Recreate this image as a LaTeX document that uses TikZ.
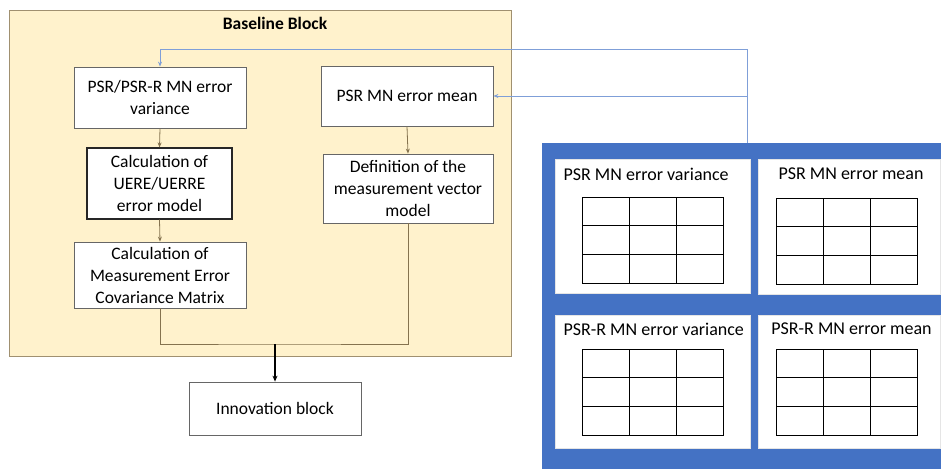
\documentclass[tikz,border=0pt]{standalone}
\usepackage{fontspec}
\setmainfont{Carlito}
\usetikzlibrary{arrows.meta}
\definecolor{blockfill}{HTML}{FFF2CC}
\definecolor{blockdraw}{HTML}{A09070}
\definecolor{boxdraw}{HTML}{666666}
\definecolor{brownline}{HTML}{85734F}
\definecolor{panelblue}{HTML}{4472C4}
\definecolor{linkblue}{HTML}{7F9FD8}
\tikzset{
  txt/.style={font=\fontsize{17.5}{22}\selectfont},
  paneltxt/.style={font=\fontsize{18}{22}\selectfont},
  procbox/.style={txt, draw=boxdraw, fill=white, line width=0.8pt, align=center, inner sep=2pt},
  boldbox/.style={procbox, draw=black!85, line width=1.1pt},
  inarrow/.style={draw=brownline, line width=0.8pt, -{Stealth[length=5pt,width=4pt]}},
  inline/.style={draw=brownline, line width=0.8pt},
  blueline/.style={draw=linkblue, line width=0.8pt},
  bluearrow/.style={blueline, -{Stealth[length=5pt,width=4pt]}},
  panel/.style={draw=white!80!gray, fill=white, line width=0.6pt},
  gridline/.style={draw=black, line width=1pt},
}
\begin{document}
\begin{tikzpicture}[x=1pt,y=-1pt]
\useasboundingbox (0,0) rectangle (941,468);
% baseline block
\node[draw=blockdraw, fill=blockfill, line width=0.8pt, minimum width=502pt, minimum height=346pt, inner sep=0pt] (base) at (260,183) {};
\node[font=\fontsize{17.5}{22}\selectfont\bfseries] (basetitle) at (275,23) {Baseline Block};
% boxes
\node[procbox, minimum width=172pt, minimum height=61pt] (b1) at (160,97.5) {PSR/PSR-R MN error\\variance};
\node[procbox, minimum width=172pt, minimum height=60pt] (b2) at (407,96) {PSR MN error mean};
\node[boldbox, minimum width=145pt, minimum height=71pt] (b3) at (159.5,183.5) {Calculation of\\UERE/UERRE\\error model};
\node[procbox, minimum width=170pt, minimum height=69pt] (b4) at (408,188.5) {Definition of the\\measurement vector\\model};
\node[procbox, minimum width=172pt, minimum height=66pt] (b5) at (160,275) {Calculation of\\Measurement Error\\Covariance Matrix};
\node[procbox, minimum width=172pt, minimum height=53pt] (inn) at (275,408.5) {Innovation block};
% inner connectors
\draw[inarrow] (b1.south) -- (b3.north);
\draw[inarrow] (b3.south) -- (b5.north);
\draw[inarrow] (b2.south) -- (b4.north);
\coordinate (jn) at (275,344);
\draw[inline] (b5.south) |- (jn) -| (b4.south);
\draw[line width=1.1pt, -{Stealth[length=6pt,width=5pt]}] (jn) -- (inn.north);
% blue panel
\node[fill=panelblue, draw=panelblue, minimum width=399pt, minimum height=325pt, inner sep=0pt] (bp) at (741.5,305.5) {};
\node[panel, minimum width=195pt, minimum height=134pt, inner sep=0pt] (p1) at (652.5,226) {};
\node[panel, minimum width=182pt, minimum height=135pt, inner sep=0pt] (p2) at (849,226.5) {};
\node[panel, minimum width=195pt, minimum height=133pt, inner sep=0pt] (p3) at (652.5,381.5) {};
\node[panel, minimum width=182pt, minimum height=133pt, inner sep=0pt] (p4) at (849,381.5) {};
\node[paneltxt, anchor=west] (t1) at (560,174) {PSR MN error variance};
\node[paneltxt] (t2) at (851,174) {PSR MN error mean};
\node[paneltxt, anchor=west] (t3) at (560,329) {PSR-R MN error variance};
\node[paneltxt] (t4) at (851.5,329) {PSR-R MN error mean};
% grids
\foreach \gx/\gy in {582/197, 776/198, 582/349, 776/349}{
  \draw[gridline] (\gx,\gy) rectangle ++(141.5,86);
  \draw[gridline] (\gx+47.2,\gy) -- ++(0,86);
  \draw[gridline] (\gx+94.3,\gy) -- ++(0,86);
  \draw[gridline] (\gx,\gy+28.7) -- ++(141.5,0);
  \draw[gridline] (\gx,\gy+57.3) -- ++(141.5,0);
}
% blue feedback connectors
\coordinate (src) at (747,143);
\coordinate (turn) at (747,49);
\coordinate (mid) at (747,96);
\draw[blueline] (src) -- (turn);
\draw[bluearrow] (turn) -| (b1.north);
\draw[bluearrow] (mid) -- (b2.east);
\end{tikzpicture}
\end{document}
